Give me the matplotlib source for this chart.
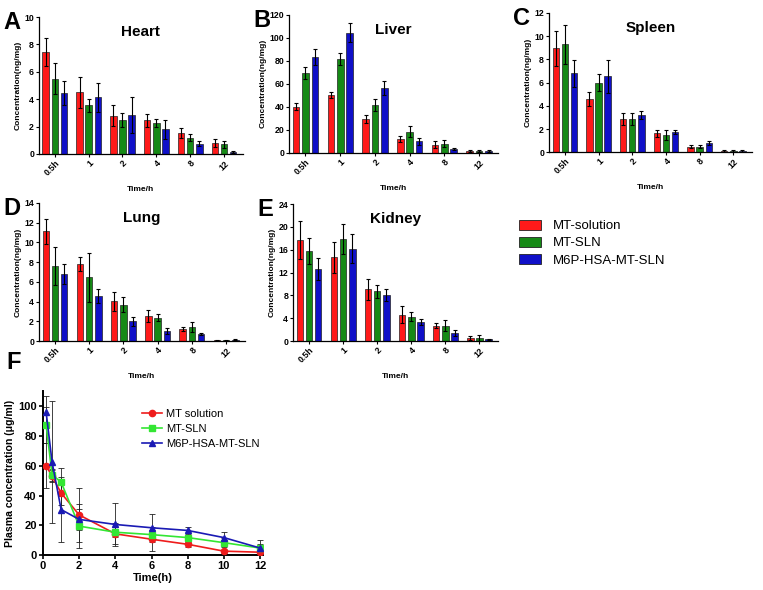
import matplotlib
matplotlib.use('Agg')
import matplotlib.pyplot as plt
from matplotlib.patches import Patch
import numpy as np

plt.rcParams['font.family'] = ['Liberation Sans', 'DejaVu Sans']

# ---- tissue distribution (ng/mg), groups: MT-solution, MT-SLN, M6P-HSA-MT-SLN
time_labels = ['0.5h', '1', '2', '4', '8', '12']
groups = ['MT-solution', 'MT-SLN', 'M6P-HSA-MT-SLN']

heart_mean = [[7.45, 4.5, 2.8, 2.45, 1.55, 0.8],
              [5.5, 3.55, 2.5, 2.25, 1.2, 0.72],
              [4.45, 4.15, 2.85, 1.8, 0.75, 0.15]]
heart_sd = [[1.05, 1.15, 0.75, 0.45, 0.38, 0.3],
            [1.15, 0.5, 0.5, 0.3, 0.28, 0.25],
            [0.85, 1.05, 1.35, 0.7, 0.2, 0.05]]

liver_mean = [[40, 50.5, 29.5, 12, 7, 1.5],
              [69.5, 81.5, 41.5, 18.5, 8, 1.5],
              [83.5, 104.5, 56, 10, 3.5, 1.5]]
liver_sd = [[3, 2.5, 3.5, 2.5, 3, 1],
            [5.5, 5, 5, 5, 3, 1],
            [7, 8.5, 6, 3, 1, 1]]

spleen_mean = [[8.94, 4.58, 2.87, 1.63, 0.49, 0.12],
               [9.3, 6.0, 2.87, 1.49, 0.49, 0.1],
               [6.8, 6.53, 3.2, 1.75, 0.8, 0.1]]
spleen_sd = [[1.5, 0.6, 0.55, 0.3, 0.15, 0.1],
             [1.7, 0.7, 0.55, 0.4, 0.15, 0.1],
             [1.15, 1.4, 0.35, 0.2, 0.2, 0.05]]

lung_mean = [[11.12, 7.8, 4.03, 2.54, 1.22, 0.1],
             [7.63, 6.47, 3.7, 2.34, 1.42, 0.1],
             [6.81, 4.58, 2.0, 0.98, 0.7, 0.15]]
lung_sd = [[1.25, 0.7, 0.97, 0.6, 0.25, 0.05],
           [1.95, 2.5, 0.8, 0.35, 0.5, 0.05],
           [1.0, 0.68, 0.44, 0.3, 0.1, 0.05]]

kidney_mean = [[17.7, 14.7, 9.06, 4.6, 2.7, 0.5],
               [15.8, 17.9, 8.7, 4.27, 2.7, 0.5],
               [12.6, 16.2, 8.07, 3.33, 1.46, 0.3]]
kidney_sd = [[3.4, 2.7, 1.9, 1.5, 0.5, 0.3],
             [2.35, 2.6, 1.1, 0.8, 0.9, 0.5],
             [1.9, 2.5, 1.1, 0.6, 0.55, 0.1]]

# ---- plasma concentration (ug/ml)
plasma_t = [0.17, 0.5, 1, 2, 4, 6, 8, 10, 12]
plasma_sol = [60, 53, 41.7, 27, 14.3, 10.7, 7.3, 2.7, 2.0]
plasma_sol_sd = [15, 4, 8, 18, 7, 8, 1.5, 1, 1]
plasma_sln = [87.5, 54, 49, 19.5, 15.4, 13.8, 11.8, 8.4, 4.8]
plasma_sln_sd = [12, 4, 9.5, 15, 3.5, 3, 1.5, 3, 5.4]
plasma_m6p = [96, 62.5, 30.6, 24, 20.6, 18.4, 16.6, 11.8, 4.8]
plasma_m6p_sd = [11, 41, 22, 7, 14.5, 9.3, 2.2, 3.5, 3]

bar_colors = ['#ff1a1a', '#168a16', '#1010c8']
line_colors = ['#ee1c1c', '#33e633', '#1a1ab4']


def bar_panel(fig, rect, title, letter, means, sds, ymax, ystep):
    ax = fig.add_axes(rect)
    x = np.arange(len(time_labels))
    for i in range(3):
        ax.bar(x + (i - 1) * 0.27, means[i], width=0.19, color=bar_colors[i],
               edgecolor='#222222', linewidth=0.5,
               yerr=sds[i], capsize=1.6,
               error_kw=dict(elinewidth=0.8, capthick=0.8, ecolor='black'))
    ax.set_xlim(-0.47, 5.55)
    ax.set_ylim(0, ymax)
    ax.set_yticks(np.arange(0, ymax + 0.01, ystep))
    ax.set_xticks(x)
    ax.set_xticklabels(time_labels, rotation=45, ha='right', rotation_mode='anchor',
                       fontsize=6.3, fontweight='bold')
    for lab in ax.get_yticklabels():
        lab.set_fontsize(6.3)
        lab.set_fontweight('bold')
    ax.tick_params(length=2, width=0.8, pad=1.5)
    for s in ['top', 'right']:
        ax.spines[s].set_visible(False)
    for s in ['left', 'bottom']:
        ax.spines[s].set_linewidth(0.9)
    ax.set_ylabel('Concentration(ng/mg)', fontsize=6, fontweight='bold', labelpad=2)
    ax.set_xlabel('Time/h', fontsize=6, fontweight='bold', labelpad=6)
    ax.text(0.5, 0.94, title, transform=ax.transAxes, ha='center', va='top',
            fontsize=11, fontweight='bold')
    fig.text(rect[0] - 0.047, rect[1] + rect[3] + 0.01, letter, fontsize=17,
             fontweight='bold', va='top', ha='left')
    return ax


fig = plt.figure(figsize=(7.63, 5.90), dpi=100)

bar_panel(fig, [0.051, 0.739, 0.267, 0.232], 'Heart', 'A', heart_mean, heart_sd, 10, 2)
bar_panel(fig, [0.379, 0.741, 0.274, 0.234], 'Liver', 'B', liver_mean, liver_sd, 120, 20)
bar_panel(fig, [0.7195, 0.742, 0.266, 0.236], 'Spleen', 'C', spleen_mean, spleen_sd, 12, 2)
bar_panel(fig, [0.051, 0.422, 0.270, 0.234], 'Lung', 'D', lung_mean, lung_sd, 14, 2)
bar_panel(fig, [0.384, 0.422, 0.269, 0.232], 'Kidney', 'E', kidney_mean, kidney_sd, 24, 4)

handles = [Patch(facecolor=bar_colors[i], edgecolor='#222222', linewidth=0.6, label=groups[i])
           for i in range(3)]
fig.legend(handles=handles, loc='upper left', bbox_to_anchor=(0.664, 0.648),
           frameon=False, fontsize=9.5, handlelength=1.7, handleheight=0.8,
           labelspacing=0.35, handletextpad=0.9)

# ---- panel F
axf = fig.add_axes([0.0564, 0.059, 0.288, 0.278])
series = [(plasma_sol, plasma_sol_sd, 'o', 'MT solution'),
          (plasma_sln, plasma_sln_sd, 's', 'MT-SLN'),
          (plasma_m6p, plasma_m6p_sd, '^', 'M6P-HSA-MT-SLN')]
for i, (vals, sd, mk, lab) in enumerate(series):
    axf.errorbar(plasma_t, vals, yerr=sd, fmt='none', ecolor='#222222',
                 elinewidth=0.6, capsize=2, capthick=0.6, zorder=2)
    axf.plot(plasma_t, vals, marker=mk, color=line_colors[i], markersize=4.5,
             linewidth=1.2, label=lab, zorder=3)
axf.set_xlim(0, 12.15)
axf.set_ylim(0, 110)
axf.set_xticks(range(0, 13, 2))
axf.set_yticks(range(0, 101, 20))
for lab in axf.get_xticklabels() + axf.get_yticklabels():
    lab.set_fontsize(8)
    lab.set_fontweight('bold')
axf.tick_params(length=3, width=1.2, pad=1.5)
for s in ['top', 'right']:
    axf.spines[s].set_visible(False)
for s in ['left', 'bottom']:
    axf.spines[s].set_linewidth(1.4)
axf.set_ylabel('Plasma concentration (\u03bcg/ml)', fontsize=7.6, fontweight='bold', labelpad=2)
axf.set_xlabel('Time(h)', fontsize=8, fontweight='bold', labelpad=1)
axf.legend(loc='upper left', bbox_to_anchor=(0.405, 0.955), frameon=False, fontsize=8,
           handlelength=1.8, labelspacing=0.45, handletextpad=0.4)
fig.text(0.008, 0.405, 'F', fontsize=17, fontweight='bold', va='top', ha='left')

fig.savefig('out.png', dpi=100)
